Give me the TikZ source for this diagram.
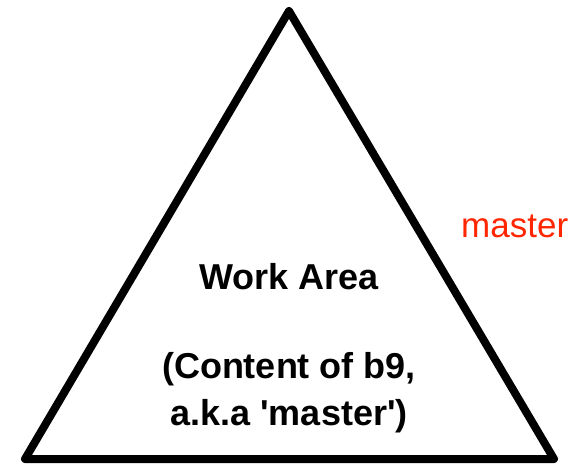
\documentclass[tikz,border=0pt]{standalone}
\usepackage{fontspec}
\newfontfamily\hel{Liberation Sans}
\definecolor{masterred}{RGB}{255,38,0}
\begin{document}
\begin{tikzpicture}[x=1pt,y=-1pt,
  tri/.style={line width=8pt,line join=round},
  bigbold/.style={font=\hel\fontsize{36}{46}\selectfont\bfseries,anchor=base,inner sep=0pt},
  redlabel/.style={font=\hel\fontsize{35}{40}\selectfont,text=masterred,anchor=base west,inner sep=0pt}]
\useasboundingbox (0,0) rectangle (586,469);
\coordinate (top) at (289,11);
\coordinate (bl) at (25,459);
\coordinate (br) at (554,459);
\draw[tri] (top) -- (br) -- (bl) -- cycle;
\node[bigbold] (work) at (289,289) {Work Area};
\node[bigbold] (content) at (289,378) {(Content of b9,};
\node[bigbold] (aka) at (289,425) {a.k.a 'master')};
\node[redlabel] (master) at (461,237) {master};
\end{tikzpicture}
\end{document}
